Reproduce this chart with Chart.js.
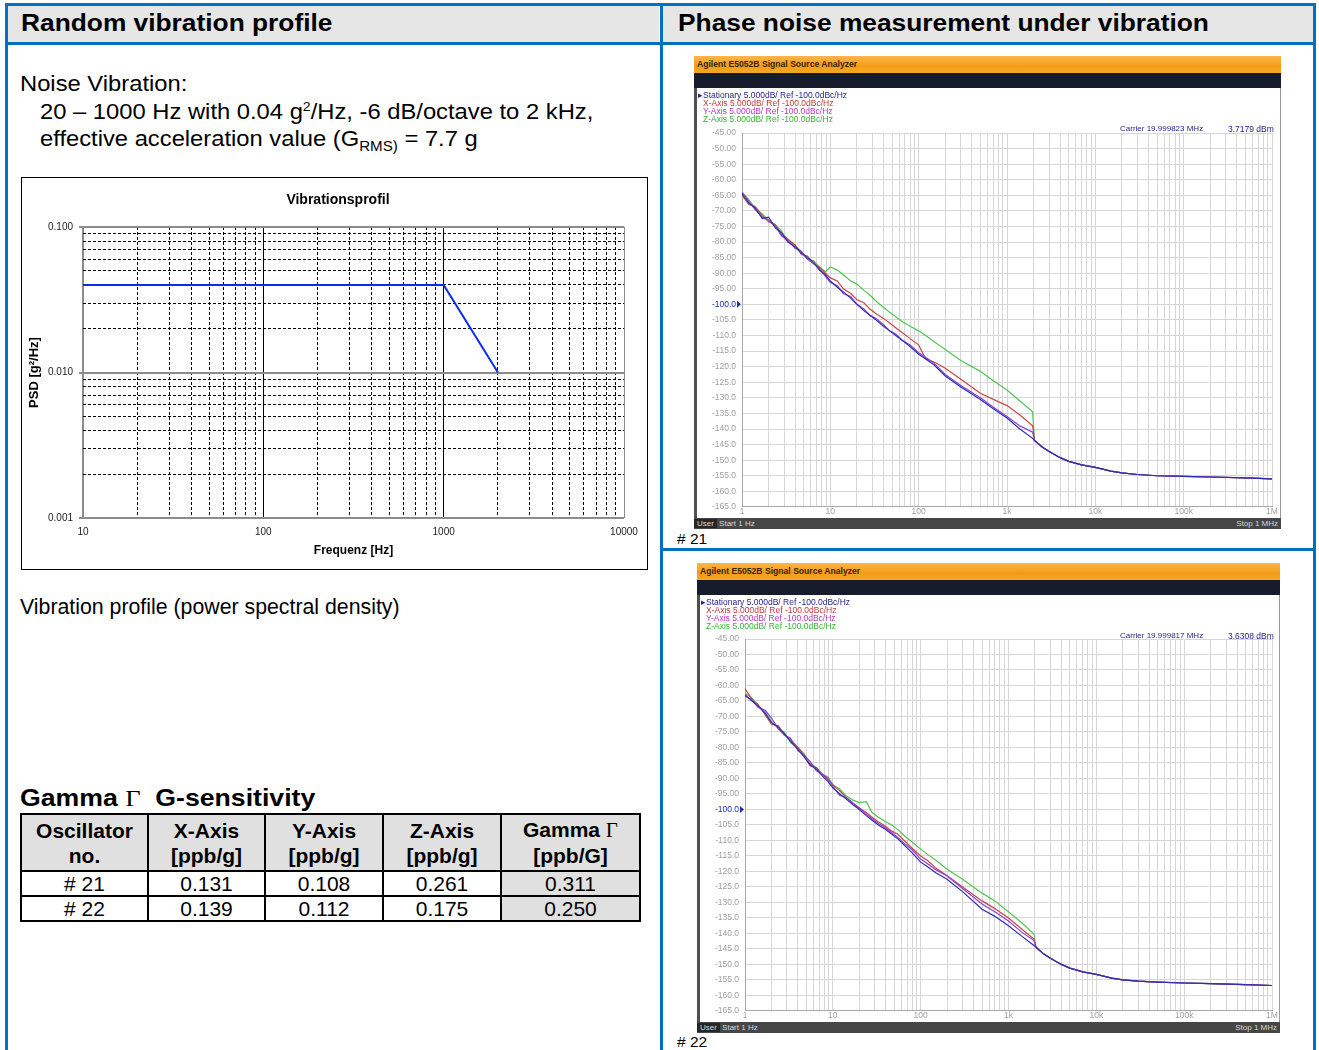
<!DOCTYPE html>
<html lang="en">
<head>
<meta charset="UTF-8">
<title>Random vibration profile / Phase noise under vibration</title>
<script src="https://cdn.jsdelivr.net/npm/chart.js"></script>
<style>
  body { margin: 0; background: #fff; font-family: "Liberation Sans", Arial, sans-serif; color: #000; }
  .a { position: absolute; white-space: nowrap; }
  .blue { position: absolute; background: #0070c0; }
  .hdr { position: absolute; background: #e6e6e6; }
  .h1 { font-size: 23.5px; font-weight: bold; transform-origin: 0 0; transform: scaleX(1.12); }
  .txt { font-size: 22px; transform-origin: 0 0; transform: scaleX(1.08); }
  .orange { position: absolute; height: 17px; background: linear-gradient(#fbb64a, #f39c16 60%, #f6a828); }
  .orange span { position: absolute; left: 3px; top: 3px; font-size: 8.6px; font-weight: bold; color: #3a2408; }
  .dark { position: absolute; height: 15px; background: #161c2c; }
  .panel { position: absolute; background: #fff; box-sizing: border-box; border-left: 3px solid #505050; border-right: 1px solid #9a9a9a; }
  .leg { position: absolute; font-size: 8.5px; line-height: 8px; white-space: nowrap; }
  .status { position: absolute; height: 11px; background: #464646; color: #d8d8d8; font-size: 8px; line-height: 11px; }
  .status .user { background: #262626; padding: 0 3px; }
  .status .stop { position: absolute; right: 3px; top: 0; }
  table.g { position: absolute; left: 20px; top: 813px; width: 621px; border-collapse: collapse; font-size: 21px; }
  table.g td { border: 2px solid #000; text-align: center; padding: 0; }
  table.g tr.head td { background: #e0e0e0; font-weight: bold; height: 55px; line-height: 25px; }
  table.g tr.row td { height: 23px; line-height: 23px; }
  table.g td.gam { background: #e0e0e0; }
  .sym { font-family: "Liberation Serif", "DejaVu Serif", serif; font-weight: normal; }
</style>
</head>
<body>
  <!-- frame -->
  <div class="hdr" style="left:8px;top:6px;width:651px;height:36px"></div>
  <div class="hdr" style="left:663px;top:6px;width:650px;height:36px"></div>
  <div class="blue" style="left:5px;top:3px;width:1311px;height:3px"></div>
  <div class="blue" style="left:5px;top:42px;width:1311px;height:3px"></div>
  <div class="blue" style="left:5px;top:3px;width:3px;height:1047px"></div>
  <div class="blue" style="left:660px;top:3px;width:3px;height:1047px"></div>
  <div class="blue" style="left:1313px;top:3px;width:3px;height:1047px"></div>
  <div class="blue" style="left:660px;top:548px;width:656px;height:3px"></div>

  <div class="a h1" style="left:21px;top:10px">Random vibration profile</div>
  <div class="a h1" style="left:678px;top:10px">Phase noise measurement under vibration</div>

  <!-- left column -->
  <div class="a txt" style="left:20px;top:71px">Noise Vibration:</div>
  <div class="a txt" style="left:40px;top:99px">20 – 1000 Hz with 0.04 g<sup style="font-size:13px">2</sup>/Hz, -6 dB/octave to 2 kHz,</div>
  <div class="a txt" style="left:40px;top:126px">effective acceleration value (G<sub style="font-size:14px">RMS)</sub> = 7.7 g</div>

  <div class="a" style="left:21px;top:177px;width:627px;height:393px;border:1px solid #000;box-sizing:border-box"></div>
  <canvas id="vibChart" class="a" style="left:22px;top:178px" width="624" height="390"></canvas>
  <div class="a" style="left:238px;top:191px;width:200px;text-align:center;font-size:14px;font-weight:bold">Vibrationsprofil</div>

  <div class="a" style="left:20px;top:595px;font-size:21.3px">Vibration profile (power spectral density)</div>

  <div class="a" style="left:20px;top:784px;font-size:24px;font-weight:bold;transform-origin:0 0;transform:scaleX(1.11)">Gamma <span class="sym">Γ</span>&nbsp; G-sensitivity</div>
  <table class="g">
    <tr class="head">
      <td style="width:125px">Oscillator<br>no.</td>
      <td style="width:115px">X-Axis<br>[ppb/g]</td>
      <td style="width:116px">Y-Axis<br>[ppb/g]</td>
      <td style="width:116px">Z-Axis<br>[ppb/g]</td>
      <td>Gamma <span class="sym">Γ</span><br>[ppb/G]</td>
    </tr>
    <tr class="row"><td># 21</td><td>0.131</td><td>0.108</td><td>0.261</td><td class="gam">0.311</td></tr>
    <tr class="row"><td># 22</td><td>0.139</td><td>0.112</td><td>0.175</td><td class="gam">0.250</td></tr>
  </table>

  <!-- analyzer screen #21 -->
  <div class="orange" style="left:694px;top:56px;width:587px"><span>Agilent E5052B Signal Source Analyzer</span></div>
  <div class="dark" style="left:694px;top:73px;width:587px"></div>
  <div class="panel" style="left:694px;top:88px;width:587px;height:430px"></div>
  <canvas id="pn21" class="a" style="left:697px;top:88px" width="583" height="430"></canvas>
  <div class="leg" style="left:698px;top:91px;color:#25258a">&#9656;Stationary 5.000dB/ Ref -100.0dBc/Hz</div>
  <div class="leg" style="left:703px;top:99px;color:#c03838">X-Axis 5.000dB/ Ref -100.0dBc/Hz</div>
  <div class="leg" style="left:703px;top:107px;color:#b838b8">Y-Axis 5.000dB/ Ref -100.0dBc/Hz</div>
  <div class="leg" style="left:703px;top:115px;color:#38b038">Z-Axis 5.000dB/ Ref -100.0dBc/Hz</div>
  <div class="leg" style="left:1120px;top:125px;color:#25258a;font-size:8px">Carrier 19.999823 MHz</div>
  <div class="leg" style="left:1228px;top:125px;color:#25258a">3.7179 dBm</div>
  <div class="status" style="left:694px;top:518px;width:587px"><span class="user">User</span> Start 1 Hz<span class="stop">Stop 1 MHz</span></div>
  <div class="a" style="left:677px;top:530px;font-size:15.5px"># 21</div>

  <!-- analyzer screen #22 -->
  <div class="orange" style="left:697px;top:563px;width:583px"><span>Agilent E5052B Signal Source Analyzer</span></div>
  <div class="dark" style="left:697px;top:580px;width:583px"></div>
  <div class="panel" style="left:697px;top:595px;width:583px;height:427px"></div>
  <canvas id="pn22" class="a" style="left:700px;top:595px" width="579" height="427"></canvas>
  <div class="leg" style="left:701px;top:598px;color:#25258a">&#9656;Stationary 5.000dB/ Ref -100.0dBc/Hz</div>
  <div class="leg" style="left:706px;top:606px;color:#c03838">X-Axis 5.000dB/ Ref -100.0dBc/Hz</div>
  <div class="leg" style="left:706px;top:614px;color:#b838b8">Y-Axis 5.000dB/ Ref -100.0dBc/Hz</div>
  <div class="leg" style="left:706px;top:622px;color:#38b038">Z-Axis 5.000dB/ Ref -100.0dBc/Hz</div>
  <div class="leg" style="left:1120px;top:632px;color:#25258a;font-size:8px">Carrier 19.999817 MHz</div>
  <div class="leg" style="left:1228px;top:632px;color:#25258a">3.6308 dBm</div>
  <div class="status" style="left:697px;top:1022px;width:583px"><span class="user">User</span> Start 1 Hz<span class="stop">Stop 1 MHz</span></div>
  <div class="a" style="left:677px;top:1033px;font-size:15.5px"># 22</div>

<script>
// --- vibration profile (PSD) ---
const vibFreq = [10, 1000, 2000];
const vibPsd = [0.04, 0.04, 0.01];
const vibYLabels = [0.001, 0.01, 0.1];

// --- phase noise traces, offset frequency in Hz, L(f) in dBc/Hz ---
const pnFreq = [1, 1.2, 1.4, 1.7, 2, 2.4, 2.8, 3.3, 4, 4.7,
  5.5, 6.5, 7.5, 8.8, 10, 12, 14, 17, 20, 24,
  28, 33, 40, 47, 55, 65, 80, 100, 120, 150,
  200, 300, 500, 700, 1000, 1400, 1950, 2050, 2500, 3000,
  4000, 5000, 7000, 10000, 15000, 20000, 30000, 50000, 100000, 200000,
  500000, 1000000];
const pnLabels = {1: '1', 10: '10', 100: '100', 1000: '1k', 10000: '10k', 100000: '100k', 1000000: '1M'};

const stat21 = [-64.5, -67.5, -69, -72.5, -72, -75.5, -77, -80, -81.5, -83.5,
  -85, -86.5, -89, -90.5, -92.5, -94.5, -96, -98, -100, -102,
  -103.5, -105, -107, -108.5, -110, -111.5, -113.5, -116, -117.5, -119.5,
  -123, -126.5, -130.5, -133.5, -136.5, -140, -143, -143.7, -145.8, -147.2,
  -149.2, -150.4, -151.5, -152.3, -153.5, -154.1, -154.6, -155, -155.2, -155.4,
  -155.7, -156];
const xAxis21 = [-65, -68, -68.5, -71.5, -73.5, -74.5, -77.5, -79, -81, -84,
  -84.5, -87, -88, -90, -91.5, -92.5, -95, -96.5, -98.5, -99.5,
  -101.5, -103, -104.5, -106, -107.5, -109, -111, -113, -117.5, -118.5,
  -120.5, -124, -128.5, -130.5, -132.5, -135.5, -139, -143.7, -145.8, -147.2,
  -149.2, -150.4, -151.5, -152.3, -153.5, -154.1, -154.6, -155, -155.2, -155.4,
  -155.7, -156];
const yAxis21 = [-64, -67, -69.5, -72, -73, -75, -78, -79.5, -82, -83,
  -85.5, -87, -88.5, -91, -93, -94, -96.5, -97.5, -100, -101.5,
  -103.5, -104.5, -106.5, -108.5, -109.5, -111.5, -113, -115.5, -117, -119,
  -122.5, -126, -130, -133, -136, -139, -141, -143.7, -145.8, -147.2,
  -149.2, -150.4, -151.5, -152.3, -153.5, -154.1, -154.6, -155, -155.2, -155.4,
  -155.7, -156];
const zAxis21 = [-64, -66.5, -69, -71, -73, -74.5, -76.5, -79.5, -81, -83,
  -85.5, -86, -88, -89.5, -88, -89, -90.5, -92.5, -93.5, -95.5,
  -97, -99, -101, -102.5, -104, -105.5, -107, -108.5, -110, -112,
  -114.5, -118, -121.5, -124.5, -127.5, -131, -134.5, -143.7, -145.8, -147.2,
  -149.2, -150.4, -151.5, -152.3, -153.5, -154.1, -154.6, -155, -155.2, -155.4,
  -155.7, -156];

const stat22 = [-63, -65, -66.5, -69, -72, -73.5, -75.5, -78, -80.5, -83,
  -85.5, -87, -89, -91, -93, -95, -96.5, -98.5, -100, -102,
  -103.5, -105, -106.5, -108, -109.5, -111.5, -114, -117, -118.5, -120.5,
  -122.5, -126.5, -132.2, -134.5, -137.5, -140.8, -143.9, -144.4, -146.6, -148,
  -150, -151.2, -152.4, -153.2, -154.4, -155, -155.4, -155.7, -156, -156.2,
  -156.5, -156.8];
const xAxis22 = [-61, -64.5, -66, -69.5, -72.5, -73, -76, -77.5, -80, -82.5,
  -86, -86.5, -88.5, -90.5, -92, -94, -96, -98, -99.5, -101,
  -102.5, -104, -105.5, -107, -108, -110, -112.5, -115, -116.5, -119,
  -121.4, -125, -129.5, -132, -135, -138.5, -141.8, -144.4, -146.6, -148,
  -150, -151.2, -152.4, -153.2, -154.4, -155, -155.4, -155.7, -156, -156.2,
  -156.5, -156.8];
const yAxis22 = [-63.5, -64.5, -67, -68, -70.5, -74, -76, -77, -81, -82.5,
  -84.5, -87.5, -88.5, -90, -92.5, -95.5, -96, -98, -99.5, -101.5,
  -103, -104.5, -106, -107.5, -109, -111, -113, -116, -117.5, -119.5,
  -121.5, -125.5, -130.5, -133, -136, -139.5, -142.3, -144.4, -146.6, -148,
  -150, -151.2, -152.4, -153.2, -154.4, -155, -155.4, -155.7, -156, -156.2,
  -156.5, -156.8];
const zAxis22 = [-62.5, -64, -66.5, -68.5, -71.5, -74, -75, -78.5, -80, -82,
  -85, -86.5, -88.5, -89.5, -92, -93.5, -95.5, -97, -97.8, -97.5,
  -101, -102.5, -104, -105, -106.5, -108.5, -110.5, -112.8, -114.5, -116.5,
  -119.3, -122.5, -127, -129.5, -133, -136.5, -140.2, -144.4, -146.6, -148,
  -150, -151.2, -152.4, -153.2, -154.4, -155, -155.4, -155.7, -156, -156.2,
  -156.5, -156.8];

Chart.defaults.font.family = '"Liberation Sans", Arial, sans-serif';
Chart.defaults.animation = false;

// 1..9 x 10^n tick values between two decades
function logTicks(fromExp, toExp) {
  const out = [];
  for (let e = fromExp; e < toExp; e++) {
    for (let m = 1; m < 10; m++) out.push({ value: +(m * Math.pow(10, e)).toPrecision(6) });
  }
  out.push({ value: Math.pow(10, toExp) });
  return out;
}
const isDecade = v => Math.abs(Math.log10(v) - Math.round(Math.log10(v))) < 1e-6;

// --- Vibrationsprofil ---
new Chart(document.getElementById('vibChart'), {
  type: 'line',
  data: {
    datasets: [{
      data: vibFreq.map((f, i) => ({ x: f, y: vibPsd[i] })),
      borderColor: '#0a2cf0',
      borderWidth: 2,
      pointRadius: 0,
      tension: 0
    }]
  },
  options: {
    responsive: false,
    layout: { padding: { left: 0, right: 22, top: 49, bottom: 0 } },
    plugins: {
      legend: { display: false },
      tooltip: { enabled: false }
    },
    scales: {
      x: {
        type: 'logarithmic',
        min: 10, max: 10000,
        afterBuildTicks: s => { s.ticks = logTicks(1, 4); },
        afterFit: s => { s.height = 50; },
        ticks: {
          autoSkip: false, maxRotation: 0, padding: 4,
          color: '#222', font: { size: 10 },
          callback: v => isDecade(v) ? String(Math.round(v)) : ''
        },
        grid: {
          color: c => {
            const v = c.tick && c.tick.value;
            if (v === 10 || v === 10000) return '#8c8c8c';
            return '#000';
          },
          lineWidth: c => (c.tick && c.tick.value === 10) ? 2 : 1,
          tickLength: 4,
          tickColor: 'transparent'
        },
        border: {
          display: false,
          dash: c => (c.tick && !isDecade(c.tick.value)) ? [3, 2] : []
        },
        title: { display: true, text: 'Frequenz [Hz]', color: '#000', font: { size: 12, weight: 'bold' }, padding: { top: 0, bottom: 10 } }
      },
      y: {
        type: 'logarithmic',
        min: 0.001, max: 0.1,
        afterBuildTicks: s => { s.ticks = logTicks(-3, -1); },
        afterFit: s => { s.width = 61; },
        ticks: {
          autoSkip: false, padding: 6,
          color: '#222', font: { size: 10 },
          callback: v => vibYLabels.some(l => Math.abs(l - v) < 1e-9) ? v.toFixed(3) : ''
        },
        grid: {
          color: c => (c.tick && isDecade(c.tick.value)) ? '#8c8c8c' : '#000',
          lineWidth: c => (c.tick && isDecade(c.tick.value)) ? 2 : 1,
          tickLength: 4,
          tickColor: c => (c.tick && isDecade(c.tick.value)) ? '#8c8c8c' : 'transparent'
        },
        border: {
          display: false,
          dash: c => (c.tick && !isDecade(c.tick.value)) ? [3, 2] : []
        },
        title: { display: true, text: 'PSD [g²/Hz]', color: '#000', font: { size: 13, weight: 'bold' }, padding: { top: 5, bottom: 0 } }
      }
    }
  }
});

// --- analyzer screens ---
const refMarker = {
  id: 'refMarker',
  afterDraw(chart) {
    const y = chart.scales.y.getPixelForValue(-100);
    const x = chart.chartArea.left;
    const ctx = chart.ctx;
    ctx.save();
    ctx.fillStyle = '#1f2fb0';
    ctx.beginPath();
    ctx.moveTo(x - 5, y - 3.5);
    ctx.lineTo(x - 1, y);
    ctx.lineTo(x - 5, y + 3.5);
    ctx.closePath();
    ctx.fill();
    ctx.restore();
  }
};

function phaseNoiseChart(id, series, pad, xHeight) {
  const colors = ['#2f2fae', '#8e3fd6', '#c84848', '#52c452'];
  return new Chart(document.getElementById(id), {
    type: 'line',
    data: {
      datasets: series.map((s, k) => ({
        data: pnFreq.map((f, i) => ({ x: f, y: s[i] })),
        borderColor: colors[k],
        borderWidth: 1.2,
        pointRadius: 0,
        tension: 0
      }))
    },
    options: {
      responsive: false,
      layout: { padding: pad },
      plugins: { legend: { display: false }, tooltip: { enabled: false } },
      scales: {
        x: {
          type: 'logarithmic',
          min: 1, max: 1000000,
          afterBuildTicks: s => { s.ticks = logTicks(0, 6); },
          afterFit: s => { s.height = xHeight; },
          ticks: {
            autoSkip: false, maxRotation: 0, padding: 0,
            color: '#a0a0a0', font: { size: 8.5 },
            callback: v => pnLabels[v] || ''
          },
          grid: { color: '#d6d6d6', drawTicks: false },
          border: { color: '#a8a8a8' }
        },
        y: {
          min: -165, max: -45,
          afterFit: s => { s.width = 45; },
          ticks: {
            stepSize: 5, autoSkip: false, padding: 6,
            color: c => c.tick.value === -100 ? '#1f2fb0' : '#a0a0a0',
            font: { size: 8.5 },
            callback: v => v > -100 ? v.toFixed(2) : v.toFixed(1)
          },
          grid: { color: '#d6d6d6', drawTicks: false },
          border: { color: '#a8a8a8' }
        }
      }
    },
    plugins: [refMarker]
  });
}

// dataset order: stationary drawn on top
phaseNoiseChart('pn21', [stat21, yAxis21, xAxis21, zAxis21], { left: 0, right: 8, top: 45, bottom: 0 }, 10);
phaseNoiseChart('pn22', [stat22, yAxis22, xAxis22, zAxis22], { left: 0, right: 7, top: 44, bottom: 0 }, 9);
</script>
</body>
</html>
